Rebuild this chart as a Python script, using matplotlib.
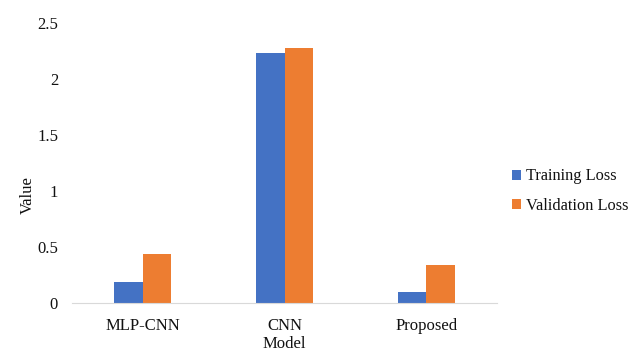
import numpy as np
import matplotlib.pyplot as plt

models = ["MLP-CNN", "CNN", "Proposed"]
training_loss = [0.19, 2.235, 0.095]
validation_loss = [0.435, 2.275, 0.34]

plt.rcParams["font.family"] = ["Liberation Serif", "DejaVu Serif"]

fig = plt.figure(figsize=(6.31, 3.53), dpi=100)
ax = fig.add_axes([0.114, 0.1416, 0.674, 0.7934])

x = np.arange(len(models))
w = 0.2
ax.bar(x - w / 2, training_loss, w, color="#4472C4", label="Training Loss")
ax.bar(x + w / 2, validation_loss, w, color="#ED7D31", label="Validation Loss")

ax.set_xlim(-0.5, 2.5)
ax.set_ylim(0, 2.5)
ax.set_yticks([0, 0.5, 1, 1.5, 2, 2.5])
ax.set_yticklabels(["0", "0.5", "1", "1.5", "2", "2.5"])
ax.set_xticks(x)
ax.set_xticklabels(models)
ax.tick_params(length=0, labelsize=12, colors="#111111")
ax.tick_params(axis="y", pad=10)
ax.tick_params(axis="x", pad=11)

for s in ["top", "right", "left"]:
    ax.spines[s].set_visible(False)
ax.spines["bottom"].set_color("#d9d9d9")

ax.set_xlabel("Model", fontsize=12, labelpad=1, color="#111111")
ax.set_ylabel("Value", fontsize=12, labelpad=8, color="#111111")
ax.yaxis.set_label_coords(-0.085, 0.386)

ax.legend(loc="center left", bbox_to_anchor=(1.015, 0.40), frameon=False,
          borderaxespad=0.5, borderpad=0, fontsize=11.8,
          handlelength=0.55, handleheight=0.55, handletextpad=0.3,
          labelspacing=0.8, labelcolor="#111111")

plt.savefig("out.png", dpi=100)
